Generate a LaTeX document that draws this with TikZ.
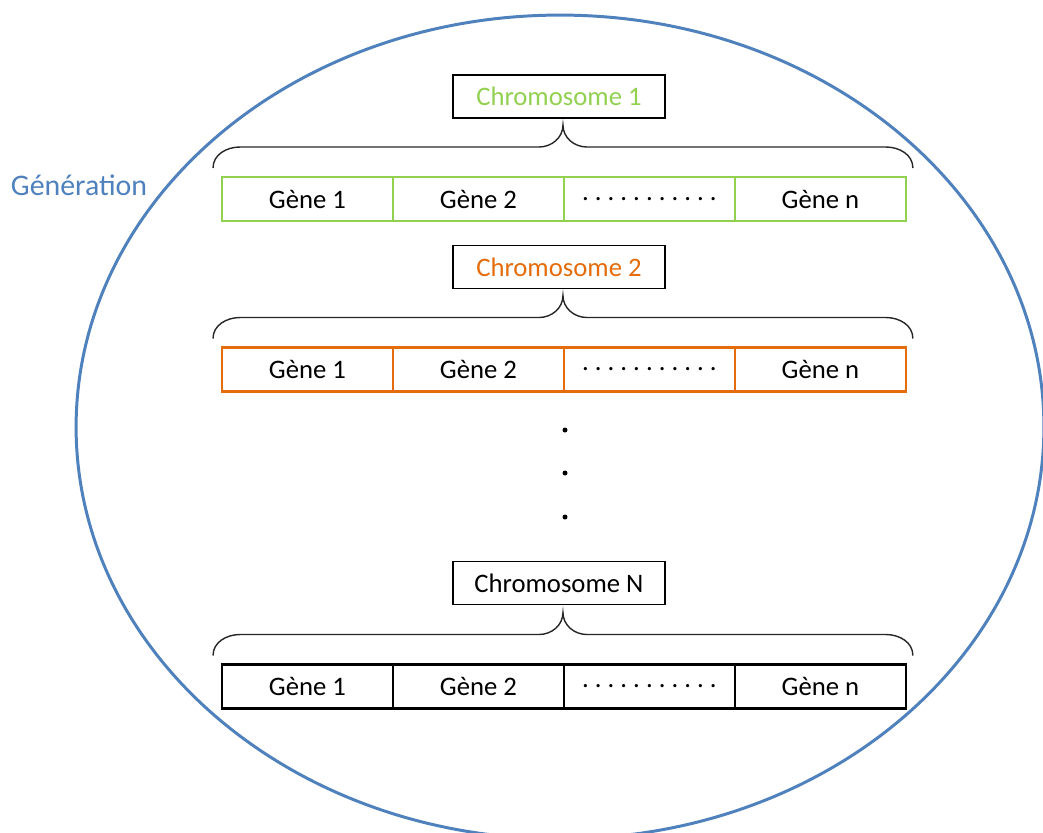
\documentclass[tikz,border=0pt]{standalone}
\usepackage{fontspec}
\setmainfont{Carlito}
\usepackage{xcolor}
\usepackage{tikz}
\usetikzlibrary{positioning, calc}

\definecolor{genblue}{HTML}{4F81BD}
\definecolor{chrgreen}{HTML}{92D050}
\definecolor{chrorange}{HTML}{E46C0A}

\begin{document}
\begin{tikzpicture}[
        x=0.02cm, y=-0.02cm,
        font=\fontsize{15.2}{18}\selectfont\frenchspacing,
        gene/.style={
            draw,
            line width=1.2pt,
            minimum width=3.42cm,
            minimum height=0.88cm,
            inner sep=0pt,
            outer sep=0pt,
            text=black
        },
        chrom/.style={
            draw=black,
            line width=1pt,
            minimum width=4.24cm,
            minimum height=0.86cm,
            inner sep=0pt,
            outer sep=0pt
        },
        brace/.style={
            line width=0.8pt,
            color=black!85
        },
        vdot/.style={
            circle,
            fill=black,
            inner sep=0pt,
            minimum size=0.1cm
        },
        population/.style={
            draw=genblue,
            line width=1.7pt
        }
    ]

    \useasboundingbox (0,0) rectangle (1043,832);
    \clip (0,0) rectangle (1043,832);

    % Generation
    \draw [population] (560,427) ellipse [x radius=9.68cm, y radius=8.24cm];
    \node (gen) [text=genblue, font=\fontsize{17}{20}\selectfont] at (79,185) {Génération};

    % Chromosome 1 genes
    \node (c1g1) [gene, draw=chrgreen] at (307.5,199) {Gène 1};
    \node (c1g2) [gene, draw=chrgreen, right=0pt of c1g1] {Gène 2};
    \node (c1g3) [gene, draw=chrgreen, right=0pt of c1g2] {. . . . . . . . . . .};
    \node (c1g4) [gene, draw=chrgreen, right=0pt of c1g3] {Gène n};
    \node (chr1) [chrom, text=chrgreen, above=1.18cm of c1g2.north east, xshift=-0.1cm] {Chromosome 1};

    % Chromosome 2 genes
    \node (c2g1) [gene, draw=chrorange] at (307.5,369.5) {Gène 1};
    \node (c2g2) [gene, draw=chrorange, right=0pt of c2g1] {Gène 2};
    \node (c2g3) [gene, draw=chrorange, right=0pt of c2g2] {. . . . . . . . . . .};
    \node (c2g4) [gene, draw=chrorange, right=0pt of c2g3] {Gène n};
    \node (chr2) [chrom, text=chrorange, above=1.18cm of c2g2.north east, xshift=-0.1cm] {Chromosome 2};

    % Other chromosomes
    \node (dot1) [vdot] at (565,430) {};
    \node (dot2) [vdot] at (565,473) {};
    \node (dot3) [vdot] at (565,517) {};

    % Chromosome N genes
    \node (c3g1) [gene, draw=black] at (307.5,686.5) {Gène 1};
    \node (c3g2) [gene, draw=black, right=0pt of c3g1] {Gène 2};
    \node (c3g3) [gene, draw=black, right=0pt of c3g2] {. . . . . . . . . . .};
    \node (c3g4) [gene, draw=black, right=0pt of c3g3] {Gène n};
    \node (chr3) [chrom, text=black, above=1.2cm of c3g2.north east, xshift=-0.1cm] {Chromosome N};

    % Braces
    \draw [brace] ([shift={(-9,-9)}]c1g1.north west) to[out=90, in=180] ([shift={(18,-30)}]c1g1.north west)
        -- ([shift={(-25,-30)}]c1g2.north east) to[out=0, in=-90] ([shift={(-1,-52)}]c1g2.north east)
        to[out=-90, in=180] ([shift={(23,-30)}]c1g2.north east)
        -- ([shift={(-20,-30)}]c1g4.north east) to[out=0, in=90] ([shift={(7,-9)}]c1g4.north east);
    \draw [brace] ([shift={(-9,-9)}]c2g1.north west) to[out=90, in=180] ([shift={(18,-30)}]c2g1.north west)
        -- ([shift={(-25,-30)}]c2g2.north east) to[out=0, in=-90] ([shift={(-1,-52)}]c2g2.north east)
        to[out=-90, in=180] ([shift={(23,-30)}]c2g2.north east)
        -- ([shift={(-20,-30)}]c2g4.north east) to[out=0, in=90] ([shift={(7,-9)}]c2g4.north east);
    \draw [brace] ([shift={(-9,-9)}]c3g1.north west) to[out=90, in=180] ([shift={(18,-30)}]c3g1.north west)
        -- ([shift={(-25,-30)}]c3g2.north east) to[out=0, in=-90] ([shift={(-1,-52)}]c3g2.north east)
        to[out=-90, in=180] ([shift={(23,-30)}]c3g2.north east)
        -- ([shift={(-20,-30)}]c3g4.north east) to[out=0, in=90] ([shift={(7,-9)}]c3g4.north east);

\end{tikzpicture}
\end{document}
